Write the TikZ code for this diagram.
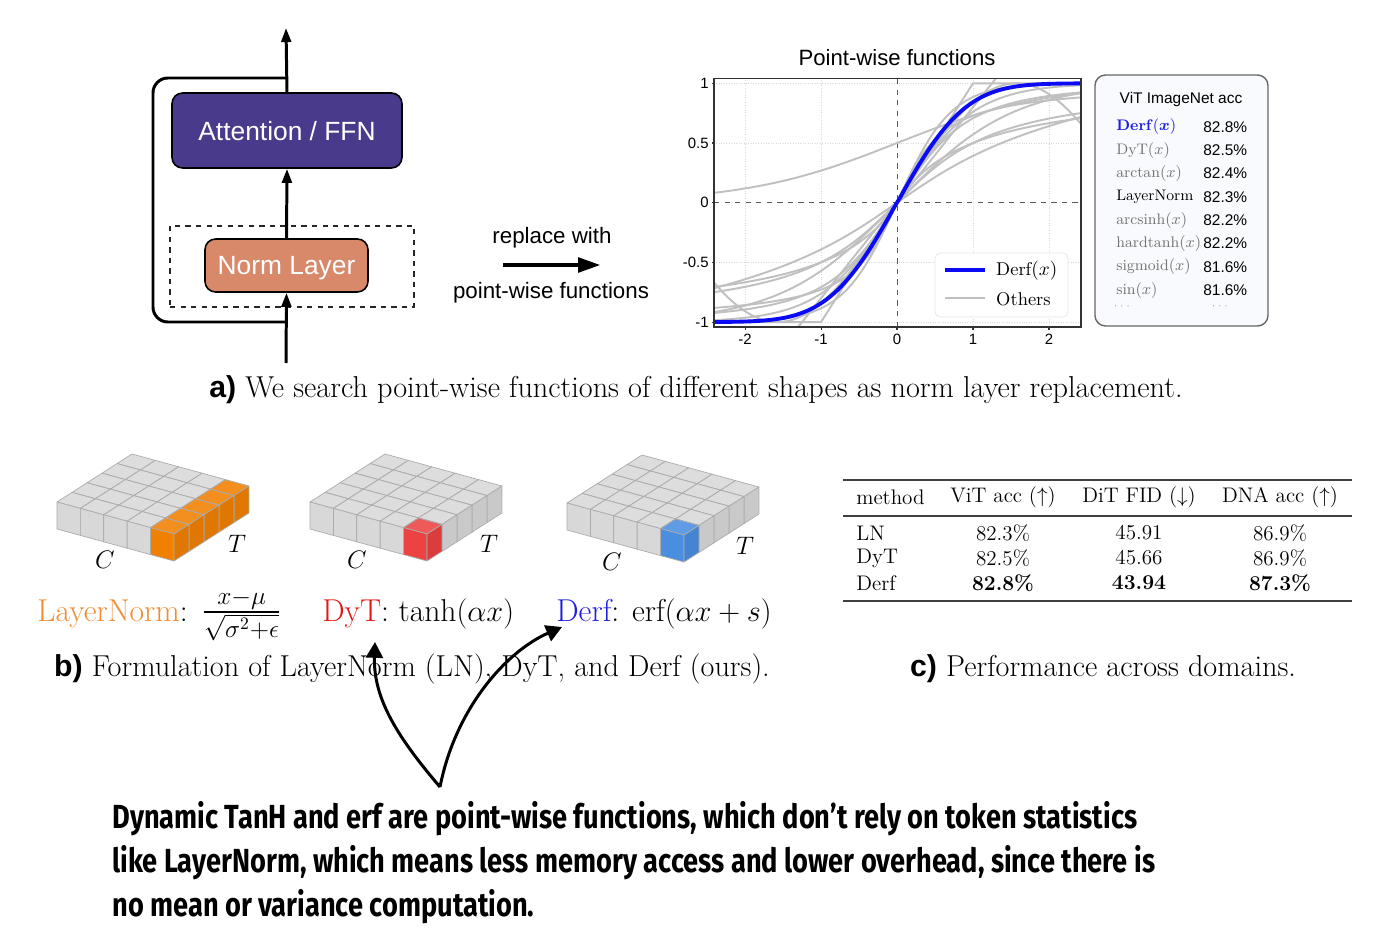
\documentclass[tikz,border=0pt]{standalone}
\usepackage{amsmath,amssymb}
\usepackage{fontspec}
\usetikzlibrary{arrows.meta,positioning,calc}

\newfontfamily\helv{Liberation Sans}
\newfontfamily\notefont[FakeStretch=0.815]{Fira Sans}

\definecolor{attncol}{RGB}{73,58,140}
\definecolor{normcol}{RGB}{216,137,106}
\definecolor{lnorange}{RGB}{240,128,0}
\definecolor{lntext}{RGB}{242,140,50}
\definecolor{dytred}{RGB}{236,66,66}
\definecolor{dyttext}{RGB}{230,20,20}
\definecolor{derfblue}{RGB}{74,142,224}
\definecolor{derftext}{RGB}{30,30,225}
\definecolor{cubegray}{RGB}{216,216,216}
\definecolor{curvegray}{RGB}{192,192,192}
\definecolor{derfline}{RGB}{10,10,245}
\definecolor{namegray}{RGB}{115,115,115}
\definecolor{accfill}{RGB}{248,250,253}

% one cube of the token slab: #1 = C index, #2 = T index, #3 = colour
\newcommand{\tokcube}[3]{%
  \filldraw[cubeedge,fill=#3!88!white] (#1,#2,0) -- (#1+1,#2,0) -- (#1+1,#2+1,0) -- (#1,#2+1,0) -- cycle;
  \filldraw[cubeedge,fill=#3] (#1,#2,0) -- (#1+1,#2,0) -- (#1+1,#2,-1) -- (#1,#2,-1) -- cycle;
  \filldraw[cubeedge,fill=#3!93!black] (#1+1,#2,0) -- (#1+1,#2+1,0) -- (#1+1,#2+1,-1) -- (#1+1,#2,-1) -- cycle;
}
% 5x5 slab: #1 = origin, #2 = highlight colour, #3 = 1 for the whole T row
\newcommand{\tokslab}[3]{%
  \begin{scope}[shift={#1},x={(0.468cm,-0.128cm)},y={(0.3cm,0.192cm)},z={(0cm,0.54cm)}]
    \foreach \j in {4,3,2,1,0} {
      \foreach \i in {0,...,4} {
        \def\cc{cubegray}
        \ifnum\i=4 \ifnum\j=0 \def\cc{#2}\else\ifnum#3=1 \def\cc{#2}\fi\fi\fi
        \tokcube{\i}{\j}{\cc}
      }
    }
  \end{scope}}

\begin{document}
\begin{tikzpicture}[x=0.02cm,y=-0.02cm,
    flow/.style={line width=1.7pt},
    arrowed/.style={-{Triangle[length=8pt,width=5.5pt]}},
    blockbox/.style={draw=black,line width=0.9pt,rounded corners=6pt,text=white,text depth=0pt,
      font=\helv\fontsize{15}{18}\selectfont},
    sanslabel/.style={font=\helv\fontsize{12.7}{15}\selectfont},
    ticklab/.style={font=\helv\fontsize{8.5}{10}\selectfont,inner sep=1pt},
    gridline/.style={gray!30,line width=0.4pt,densely dotted},
    zeroline/.style={gray!70!black,line width=0.5pt,dashed},
    othercurve/.style={curvegray,line width=1.1pt},
    accname/.style={anchor=west,inner sep=0pt,font=\fontsize{8.7}{10}\selectfont},
    accval/.style={anchor=west,inner sep=0pt,font=\helv\fontsize{8.8}{10}\selectfont},
    cubeedge/.style={draw=gray!65,line width=0.4pt,line join=round},
    axlab/.style={font=\fontsize{14}{16}\selectfont},
    formula/.style={anchor=base west,inner sep=0pt,font=\fontsize{18}{21}\selectfont},
    capline/.style={anchor=base,inner sep=0pt,font=\fontsize{17.2}{20}\selectfont},
    tabtext/.style={inner sep=0pt,font=\fontsize{12}{14}\selectfont},
    notetext/.style={anchor=north west,inner sep=0pt,align=left,
      font=\notefont\bfseries\fontsize{19}{25}\selectfont},
    callout/.style={line width=1.7pt,-{Triangle[length=9pt,width=9.6pt]}}]

  \useasboundingbox (0,0) rectangle (1392,952);

  % --- a) block with norm layer ---
  \coordinate (in) at (286,363);
  \coordinate (split) at (286,322);
  \coordinate (merge) at (286,78);
  \coordinate (out) at (286,28);
  \draw[flow,rounded corners=8.5pt] (split) -- ++(-133,0) |- (merge);
  \node[draw=black!85,dashed,line width=0.9pt,minimum width=4.88cm,minimum height=1.62cm] (swap) at (292,266.3) {};
  \node[blockbox,fill=attncol,minimum width=4.6cm,minimum height=1.5cm] (attn) at (287,130.5) {Attention / FFN};
  \node[blockbox,fill=normcol,minimum width=3.26cm,minimum height=1.06cm] (norm) at (286.5,265.5) {Norm Layer};
  \draw[flow,arrowed] (in) -- (norm.south);
  \draw[flow,arrowed] (norm.north) -- (attn.south);
  \draw[flow,arrowed] (attn.north) -- (out);

  \node[sanslabel] (replwith) at (552,238) {replace with};
  \node[sanslabel] (pwfun) at (551,293) {point-wise functions};
  \coordinate (rA) at (503,265);
  \coordinate (rB) at (601,265);
  \draw[line width=2.8pt,-{Triangle[length=13pt,width=8pt]}] (rA) -- (rB);

  % --- a) point-wise functions plot ---
  \node[font=\helv\fontsize{12.6}{15}\selectfont] (plottitle) at (897,58) {Point-wise functions};
  \begin{scope}[shift={(897,202.7)},x=1.52cm,y=2.388cm]
    \foreach \gx in {-2,-1,1,2} \draw[gridline] (\gx,-1.04) -- (\gx,1.04);
    \foreach \gy in {-1,-0.5,0.5,1} \draw[gridline] (-2.408,\gy) -- (2.42,\gy);
    \draw[zeroline] (0,-1.04) -- (0,1.04);
    \draw[zeroline] (-2.408,0) -- (2.42,0);
    \begin{scope}
      \clip (-2.408,-1.04) rectangle (2.42,1.04);
      \draw[othercurve] plot[domain=-2.5:2.5,samples=80] (\x,{1/(1+exp(-(\x)))});
      \draw[othercurve] (-2.5,-1) -- (-1,-1) -- (1,1) -- (2.5,1);
      \draw[othercurve] plot[domain=-2.5:2.5,samples=80] (\x,{sin(\x r)});
      \draw[othercurve] plot[domain=-2.5:2.5,samples=80] (\x,{tanh(\x)});
      \draw[othercurve] plot[domain=-2.5:2.5,samples=80] (\x,{tanh(1.4*\x)});
      \draw[othercurve] plot[domain=-2.5:2.5,samples=80] (\x,{tanh(0.65*\x)});
      \draw[othercurve] plot[domain=-2.5:2.5,samples=80] (\x,{atan(\x)/90});
      \draw[othercurve] plot[domain=-2.5:2.5,samples=80] (\x,{atan(2.2*\x)/90});
      \draw[othercurve] plot[domain=-2.5:2.5,samples=80] (\x,{(\x)/(1+abs(\x))});
      \draw[othercurve] plot[domain=-2.5:2.5,samples=80] (\x,{(\x)/sqrt(1+(\x)*(\x))});
      \draw[othercurve] plot[domain=-2.5:2.5,samples=80] (\x,{ln(\x+sqrt(1+(\x)*(\x)))/2.25});
      \draw[othercurve] (-2.5,-2) -- (2.5,2);
      \draw[derfline,line width=2.2pt] plot[domain=-2.5:2.5,samples=121]
        (\x,{sign(\x)*sqrt(1-exp(-(\x)*(\x)*(1.2732+0.147*(\x)*(\x))/(1+0.147*(\x)*(\x))))});
    \end{scope}
    \draw[black!80,line width=0.8pt] (-2.408,-1.04) rectangle (2.42,1.04);
    \foreach \gx [count=\k] in {-2,-1,0,1,2} {
      \draw[black!80,line width=0.6pt] (\gx,-1.04) -- (\gx,-1.07);
      \node[ticklab,below=1pt] (xt\k) at (\gx,-1.07) {\gx};
    }
    \foreach \gy [count=\k] in {1,0.5,0,-0.5,-1} {
      \draw[black!80,line width=0.6pt] (-2.408,\gy) -- (-2.44,\gy);
      \node[ticklab,left=0.5pt] (yt\k) at (-2.44,\gy) {\gy};
    }
  \end{scope}

  % legend
  \node[draw=gray!20,fill=white,fill opacity=0.9,rounded corners=3pt,minimum width=2.66cm,minimum height=1.28cm] (legend) at (1001.5,285) {};
  \coordinate (lgA) at (945,270);
  \coordinate (lgB) at (985,270);
  \coordinate (lgC) at (945,298);
  \coordinate (lgD) at (985,298);
  \draw[derfline,line width=2.2pt] (lgA) -- (lgB);
  \draw[othercurve] (lgC) -- (lgD);
  \node[anchor=west,font=\fontsize{10.5}{12}\selectfont] (lgderf) at (990,271) {$\mathrm{Derf}(x)$};
  \node[anchor=west,font=\fontsize{10.5}{12}\selectfont] (lgoth) at (990,299) {Others};

  % --- a) ViT ImageNet accuracy box ---
  \draw[gray!80!black,line width=0.8pt,fill=accfill,rounded corners=6pt] (1095,75) rectangle (1268,326);
  \node[font=\helv\fontsize{8.8}{10}\selectfont] (acctitle) at (1181,100) {ViT ImageNet acc};
  \node[accname,text=derftext] (fn1) at (1116,127) {\textbf{Derf}$(\boldsymbol{x})$};
  \node[accname,text=namegray] (fn2) at (1116,150.3) {$\mathrm{DyT}(x)$};
  \node[accname,text=namegray] (fn3) at (1116,173.6) {$\arctan(x)$};
  \node[accname] (fn4) at (1116,196.9) {LayerNorm};
  \node[accname,text=namegray] (fn5) at (1116,220.2) {$\mathrm{arcsinh}(x)$};
  \node[accname,text=namegray] (fn6) at (1116,243.5) {$\mathrm{hardtanh}(x)$};
  \node[accname,text=namegray] (fn7) at (1116,266.8) {$\mathrm{sigmoid}(x)$};
  \node[accname,text=namegray] (fn8) at (1116,290.1) {$\sin(x)$};
  \node[accval] (fv1) at (1203,127) {82.8\%};
  \node[accval] (fv2) at (1203,150.3) {82.5\%};
  \node[accval] (fv3) at (1203,173.6) {82.4\%};
  \node[accval] (fv4) at (1203,196.9) {82.3\%};
  \node[accval] (fv5) at (1203,220.2) {82.2\%};
  \node[accval] (fv6) at (1203,243.5) {82.2\%};
  \node[accval] (fv7) at (1203,266.8) {81.6\%};
  \node[accval] (fv8) at (1203,290.1) {81.6\%};
  \node[font=\tiny,text=gray] (accdots1) at (1123,306) {$\cdots$};
  \node[font=\tiny,text=gray] (accdots2) at (1221,306) {$\cdots$};

  \node[capline] (capa) at (696,398) {{\helv\bfseries a)} We search point-wise functions of different shapes as norm layer replacement.};

  % --- b) token slabs ---
  \tokslab{(57,502)}{lnorange}{1}
  \tokslab{(310,502)}{dytred}{0}
  \tokslab{(567,503)}{derfblue}{0}
  \node[axlab] (c1) at (105,560) {$C$};
  \node[axlab] (t1) at (237,544) {$T$};
  \node[axlab] (c2) at (357,560) {$C$};
  \node[axlab] (t2) at (489,544) {$T$};
  \node[axlab] (c3) at (612,562) {$C$};
  \node[axlab] (t3) at (745,546) {$T$};

  \node[formula] (lnform) at (37,621) {{\color{lntext}LayerNorm}:\hspace{0.45em}{\fontsize{20}{24}\selectfont$\frac{x-\mu}{\sqrt{\sigma^2+\epsilon}}$}};
  \node[formula] (dytform) at (322,621) {{\color{dyttext}DyT}: $\tanh(\alpha x)$};
  \node[formula] (derfform) at (556,621) {{\color{derftext}Derf}: $\mathrm{erf}(\alpha x+s)$};
  \node[capline] (capb) at (412,676) {{\helv\bfseries b)} Formulation of LayerNorm (LN), DyT, and Derf (ours).};

  % --- c) results table ---
  \draw[line width=1.1pt,black!75] (843,480) -- (1352,480);
  \draw[line width=0.7pt,black!75] (843,516) -- (1352,516);
  \draw[line width=1.1pt,black!75] (843,601) -- (1352,601);
  \node[tabtext,anchor=west] (hmeth) at (856,497) {method};
  \node[tabtext] (hvit) at (1003,497) {ViT acc ($\uparrow$)};
  \node[tabtext] (hdit) at (1139,497) {DiT FID ($\downarrow$)};
  \node[tabtext] (hdna) at (1280,497) {DNA acc ($\uparrow$)};
  \foreach \meth/\va/\vb/\vc/\ry in {LN/82.3\%/45.91/86.9\%/533, DyT/82.5\%/45.66/86.9\%/558,
      Derf/\textbf{82.8\%}/\textbf{43.94}/\textbf{87.3\%}/583} {
    \node[tabtext,anchor=west] (rm\meth) at (856,\ry) {\meth};
    \node[tabtext] (ra\meth) at (1003,\ry) {\va};
    \node[tabtext] (rb\meth) at (1139,\ry) {\vb};
    \node[tabtext] (rc\meth) at (1280,\ry) {\vc};
  }
  \node[capline] (capc) at (1103,676) {{\helv\bfseries c)} Performance across domains.};

  % --- note with callouts ---
  \node[notetext] (note) at (112,801) {Dynamic TanH and erf are point-wise functions, which don’t rely on token statistics\\
    like LayerNorm, which means less memory access and lower overhead, since there is\\
    no mean or variance computation.};
  \coordinate (apex) at (440,787);
  \coordinate (dytTip) at (375,642);
  \coordinate (derfTip) at (562,627);
  \draw[callout] (apex) .. controls (400,740) and (373,700) .. (dytTip);
  \draw[callout] (apex) .. controls (455,710) and (505,652) .. (derfTip);

\end{tikzpicture}
\end{document}
